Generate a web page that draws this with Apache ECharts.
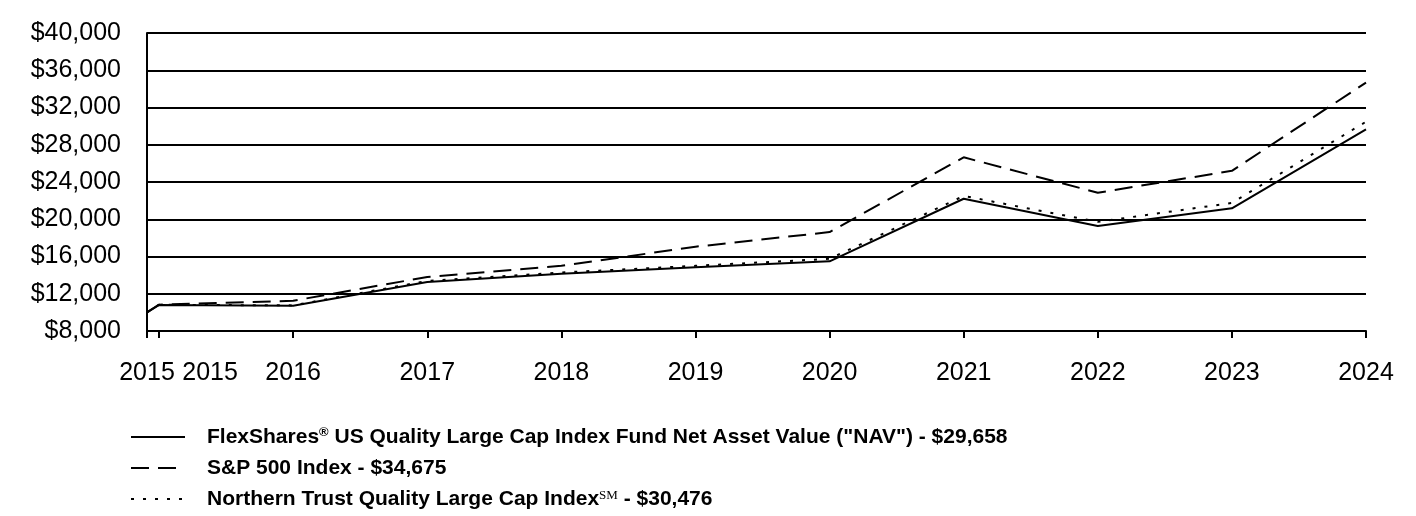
<!DOCTYPE html>
<html>
<head>
<meta charset="utf-8">
<script src="https://cdn.jsdelivr.net/npm/echarts@6/dist/echarts.min.js"></script>
<style>
html,body{margin:0;padding:0;background:#fff;}
#c{width:1416px;height:516px;}
</style>
</head>
<body>
<div id="c"></div>
<script>
// Period positions (fractional years) and tick labels
const periods = [2014.91, 2015, 2016, 2017, 2018, 2019, 2020, 2021, 2022, 2023, 2024];
const tickLabels = ['2015', '2015', '2016', '2017', '2018', '2019', '2020', '2021', '2022', '2023', '2024'];
// Series values
const navValues = [10000, 10800, 10700, 13250, 14150, 14850, 15480, 22200, 19280, 21170, 29658];
const spValues  = [10000, 10830, 11250, 13800, 15000, 17050, 18620, 26650, 22850, 25200, 34675];
const ntValues  = [10000, 10820, 10750, 13380, 14280, 15000, 15750, 22500, 19720, 21750, 30476];
const seriesNames = [
  'FlexShares® US Quality Large Cap Index Fund Net Asset Value ("NAV") - $29,658',
  'S&P 500 Index - $34,675',
  'Northern Trust Quality Large Cap Index℠ - $30,476'
];

const FONT = '"Liberation Sans", Arial, sans-serif';
const pairs = vals => periods.map((p, i) => [p, vals[i]]);

const chart = echarts.init(document.getElementById('c'), null, {renderer: 'canvas'});
chart.setOption({
  animation: false,
  backgroundColor: '#ffffff',
  grid: {left: 147, right: 50, top: 33, bottom: 185, containLabel: false},
  xAxis: {
    type: 'value',
    min: periods[0],
    max: periods[periods.length - 1],
    axisLine: {show: true, lineStyle: {color: '#000', width: 2}},
    axisTick: {show: true, customValues: periods, length: 7, lineStyle: {color: '#000', width: 2}},
    splitLine: {show: false},
    axisLabel: {
      customValues: periods,
      margin: 30,
      color: '#000',
      fontFamily: FONT,
      fontSize: 25,
      formatter: function (v) {
        const i = periods.findIndex(p => Math.abs(p - v) < 1e-6);
        if (i < 0) return '';
        if (i === 1) return '{s|' + tickLabels[i] + '}';
        return tickLabels[i];
      },
      rich: {s: {fontFamily: FONT, fontSize: 25, color: '#000', padding: [0, 0, 0, 102]}}
    }
  },
  yAxis: {
    type: 'value',
    min: 8000,
    max: 40000,
    interval: 4000,
    axisLine: {show: true, lineStyle: {color: '#000', width: 2}},
    axisTick: {show: false},
    splitLine: {show: true, lineStyle: {color: '#000', width: 2}},
    axisLabel: {
      margin: 26,
      color: '#000',
      fontFamily: FONT,
      fontSize: 25,
      formatter: v => '$' + v.toLocaleString('en-US')
    }
  },
  legend: {
    orient: 'vertical',
    left: 130,
    top: 426,
    height: 100,
    padding: 0,
    itemWidth: 54,
    itemHeight: 14,
    itemGap: 9,
    itemStyle: {opacity: 0},
    textStyle: {
      color: '#000',
      fontFamily: FONT,
      fontWeight: 'bold',
      fontSize: 21,
      lineHeight: 22,
      padding: [0, 0, 0, 17],
      rich: {
        b: {color: '#000', fontFamily: FONT, fontWeight: 'bold', fontSize: 21, lineHeight: 22},
        sup: {color: '#000', fontFamily: FONT, fontWeight: 'bold', fontSize: 13, lineHeight: 22, padding: [0, 0, 9, 0]},
        sm: {color: '#000', fontFamily: '"Liberation Serif", "DejaVu Serif", serif', fontWeight: 'normal', fontSize: 13, lineHeight: 22, padding: [0, 0, 6, 0]}
      }
    },
    formatter: function (name) {
      if (name.indexOf('®') >= 0) {
        const parts = name.split('®');
        return '{b|' + parts[0] + '}{sup|®}{b|' + parts[1] + '}';
      }
      if (name.indexOf('℠') >= 0) {
        const parts = name.split('℠');
        return '{b|' + parts[0] + '}{sm|SM}{b|' + parts[1] + '}';
      }
      return '{b|' + name + '}';
    },
    data: seriesNames
  },
  series: [
    {
      name: seriesNames[0], type: 'line', data: pairs(navValues),
      symbol: 'none', showSymbol: false,
      lineStyle: {color: '#000', width: 2, type: 'solid'},
      itemStyle: {color: '#000'}
    },
    {
      name: seriesNames[1], type: 'line', data: pairs(spValues),
      symbol: 'none', showSymbol: false,
      lineStyle: {color: '#000', width: 2, type: [18, 9]},
      itemStyle: {color: '#000'}
    },
    {
      name: seriesNames[2], type: 'line', data: pairs(ntValues),
      symbol: 'none', showSymbol: false,
      lineStyle: {color: '#000', width: 2, type: [3, 9]},
      itemStyle: {color: '#000'}
    }
  ]
});
</script>
</body>
</html>
